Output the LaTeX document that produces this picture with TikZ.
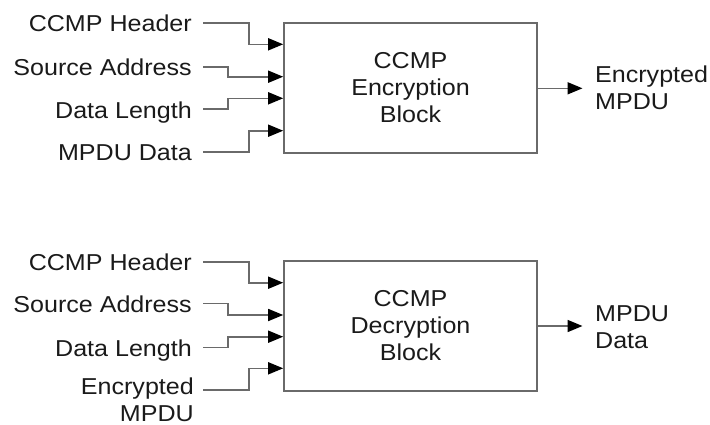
\documentclass[tikz,border=0pt]{standalone}
\usepackage{fontspec}
\setmainfont[FakeStretch=1.09]{Liberation Sans}
\usetikzlibrary{arrows.meta}
\definecolor{wiregray}{HTML}{6A6A6A}
\definecolor{inkdark}{HTML}{1A1A1A}
\begin{document}
\begin{tikzpicture}[x=1pt,y=-1pt,
  txt/.style={font=\fontsize{23}{27}\selectfont, text=inkdark, inner sep=0pt},
  inlabel/.style={txt, anchor=base east},
  outlabel/.style={txt, anchor=base west, align=left},
  blk/.style={draw=wiregray, line width=1.6pt, fill=white, minimum width=253pt,
    minimum height=130pt, txt, align=center},
  wire/.style={draw=wiregray, line width=1.6pt},
  feed/.style={wire, -{Triangle[length=15pt,width=12pt,color=black]}}]
\useasboundingbox (0,0) rectangle (710,424);

% ---------- encryption stage ----------
\node[blk] (enc) at (410.5,88) {CCMP\\Encryption\\Block};

\node[inlabel] (eh) at (192,31.7) {CCMP Header};
\node[inlabel] (es) at (192,75.5) {Source Address};
\node[inlabel] (el) at (192,118) {Data Length};
\node[inlabel] (ed) at (192,160.5) {MPDU Data};

\coordinate (eh0) at (203,22.7);
\coordinate (es0) at (203,66.7);
\coordinate (el0) at (203,109);
\coordinate (ed0) at (203,151.7);

\draw[feed] (eh0) -| (249,44.3) -- (enc.west |- 0,44.3);
\draw[feed] (es0) -| (228,76.7) -- (enc.west |- 0,76.7);
\draw[feed] (el0) -| (228,98.3) -- (enc.west |- 0,98.3);
\draw[feed] (ed0) -| (249,130.7) -- (enc.west |- 0,130.7);

% multi-line labels: base anchor sits on the last line
\node[outlabel] (eo) at (595,109) {Encrypted\\MPDU};
\coordinate (eout) at (582.5,88.3);
\draw[feed] (enc.east |- eout) -- (eout);

% ---------- decryption stage ----------
\node[blk] (dec) at (410.5,325.7) {CCMP\\Decryption\\Block};

\node[inlabel] (dh) at (192,270.5) {CCMP Header};
\node[inlabel] (ds) at (192,312) {Source Address};
\node[inlabel] (dl) at (192,356) {Data Length};
\node[txt, anchor=base east, align=right] (dd) at (194,421.3) {Encrypted\\MPDU};

\coordinate (dh0) at (203,261.7);
\coordinate (ds0) at (203,303.3);
\coordinate (dl0) at (203,347.3);
\coordinate (dd0) at (203,390);

\draw[feed] (dh0) -| (249,282.7) -- (dec.west |- 0,282.7);
\draw[feed] (ds0) -| (228,315) -- (dec.west |- 0,315);
\draw[feed] (dl0) -| (228,336.7) -- (dec.west |- 0,336.7);
\draw[feed] (dd0) -| (249,368.3) -- (dec.west |- 0,368.3);

\node[outlabel] (do) at (595,348.3) {MPDU\\Data};
\coordinate (dout) at (582.5,326);
\draw[feed] (dec.east |- dout) -- (dout);
\end{tikzpicture}
\end{document}
